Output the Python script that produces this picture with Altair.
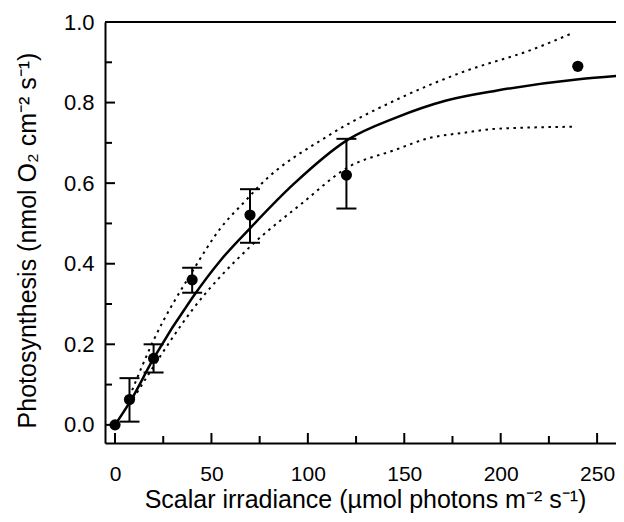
import altair as alt
import pandas as pd

# ---- data ----
pt_x = [0, 7.5, 20, 40, 70, 120, 240]
pt_y = [0.0, 0.063, 0.165, 0.36, 0.521, 0.62, 0.89]

err_x = [7.5, 20, 40, 70, 120]
err_lo = [0.008, 0.13, 0.328, 0.452, 0.537]
err_hi = [0.116, 0.20, 0.39, 0.585, 0.71]

fit_x = [0, 7.5, 20, 40, 55, 70, 92.7, 120.8, 145.4, 171.8, 198.2, 240.5, 260]
fit_y = [0.0, 0.055, 0.165, 0.315, 0.41, 0.488, 0.598, 0.708, 0.762, 0.805, 0.830, 0.858, 0.866]

up_x = [7.5, 20, 40, 55, 68, 75, 110, 145, 181, 216, 237]
up_y = [0.07, 0.21, 0.38, 0.49, 0.558, 0.594, 0.716, 0.805, 0.877, 0.931, 0.972]

lo_x = [7.5, 20, 40, 70, 97, 121, 145, 163, 181, 198, 237]
lo_y = [0.05, 0.145, 0.285, 0.442, 0.55, 0.64, 0.682, 0.712, 0.725, 0.735, 0.74]

x_labels = [0, 50, 100, 150, 200, 250]
x_minor = [25, 75, 125, 175, 225]
y_labels = [0.0, 0.2, 0.4, 0.6, 0.8, 1.0]
y_minor = [0.1, 0.3, 0.5, 0.7, 0.9]

X_TITLE = "Scalar irradiance (µmol photons m⁻² s⁻¹)"
Y_TITLE = "Photosynthesis (nmol O₂ cm⁻² s⁻¹)"

W, H = 511, 421
FONT = "Liberation Sans"

xscale = alt.Scale(domain=[-5.2, 259.8], nice=False, zero=False)
yscale = alt.Scale(domain=[-0.045, 1.0], nice=False, zero=False)

axis_x = alt.Axis(values=x_labels, title=X_TITLE, grid=False, ticks=False, tickSize=0,
                  domainColor="black", domainWidth=2, labelFont=FONT, labelFontSize=21,
                  labelColor="black", labelPadding=20, titleFont=FONT, titleFontSize=25,
                  titleFontWeight="normal", titleColor="black", titleX=260, titleY=64,
                  titleBaseline="alphabetic", titleAlign="center")
axis_y = alt.Axis(values=y_labels, format=".1f", title=Y_TITLE, grid=False, ticks=False, tickSize=0,
                  domainColor="black", domainWidth=2, labelFont=FONT, labelFontSize=22,
                  labelColor="black", labelPadding=11, titleFont=FONT, titleFontSize=25,
                  titleFontWeight="normal", titleColor="black", titleX=-70, titleY=218,
                  titleBaseline="alphabetic", titleAlign="center")


def X(f):
    return alt.X(f, type="quantitative", scale=xscale, axis=axis_x)


def Y(f):
    return alt.Y(f, type="quantitative", scale=yscale, axis=axis_y)


pts = pd.DataFrame({"x": pt_x, "y": pt_y})
err = pd.DataFrame({"x": err_x, "lo": err_lo, "hi": err_hi})
fit = pd.DataFrame({"x": fit_x, "y": fit_y})
up = pd.DataFrame({"x": up_x, "y": up_y})
lo = pd.DataFrame({"x": lo_x, "y": lo_y})

xt_major = pd.DataFrame({"x": x_labels})
xt_minor = pd.DataFrame({"x": x_minor})
yt_major = pd.DataFrame({"y": y_labels})
yt_minor = pd.DataFrame({"y": y_minor})

top_line = alt.Chart(pd.DataFrame({"d": [0]})).mark_rule(color="black", strokeWidth=2).encode(
    x=alt.value(0), x2=alt.value(W), y=alt.value(0))

xtick_maj = alt.Chart(xt_major).mark_rule(color="black", strokeWidth=2).encode(
    x=X("x"), y=alt.value(H), y2=alt.value(H - 10))
xtick_min = alt.Chart(xt_minor).mark_rule(color="black", strokeWidth=2).encode(
    x=X("x"), y=alt.value(H), y2=alt.value(H - 7))
ytick_maj = alt.Chart(yt_major).mark_rule(color="black", strokeWidth=2).encode(
    y=Y("y"), x=alt.value(0), x2=alt.value(10))
ytick_min = alt.Chart(yt_minor).mark_rule(color="black", strokeWidth=2).encode(
    y=Y("y"), x=alt.value(0), x2=alt.value(7))

fit_line = alt.Chart(fit).mark_line(color="black", strokeWidth=2.5, clip=True, interpolate="monotone").encode(
    x=X("x"), y=Y("y"), order="x:Q")
up_line = alt.Chart(up).mark_line(color="black", strokeWidth=2, strokeDash=[2.5, 4.5], clip=True,
                                  interpolate="monotone").encode(
    x=X("x"), y=Y("y"), order="x:Q")
lo_line = alt.Chart(lo).mark_line(color="black", strokeWidth=2, strokeDash=[2.5, 4.5], clip=True,
                                  interpolate="monotone").encode(
    x=X("x"), y=Y("y"), order="x:Q")

err_rule = alt.Chart(err).mark_rule(color="black", strokeWidth=2).encode(
    x=X("x"), y=Y("lo"), y2="hi")
cap_lo = alt.Chart(err).mark_tick(color="black", orient="horizontal", size=20, thickness=2, opacity=1).encode(
    x=X("x"), y=Y("lo"))
cap_hi = alt.Chart(err).mark_tick(color="black", orient="horizontal", size=20, thickness=2, opacity=1).encode(
    x=X("x"), y=Y("hi"))

dots = alt.Chart(pts).mark_circle(color="black", size=125, opacity=1).encode(x=X("x"), y=Y("y"))

chart = alt.layer(
    fit_line, up_line, lo_line, err_rule, cap_lo, cap_hi, dots,
    xtick_maj, xtick_min, ytick_maj, ytick_min, top_line
).properties(
    width=W, height=H,
    padding={"left": 97, "top": 14, "right": 0, "bottom": 71},
    autosize=alt.AutoSizeParams(type="none"),
    background="white",
).configure_view(stroke="transparent")

chart.save("out.html", embed_options={"renderer": "svg", "actions": False})
